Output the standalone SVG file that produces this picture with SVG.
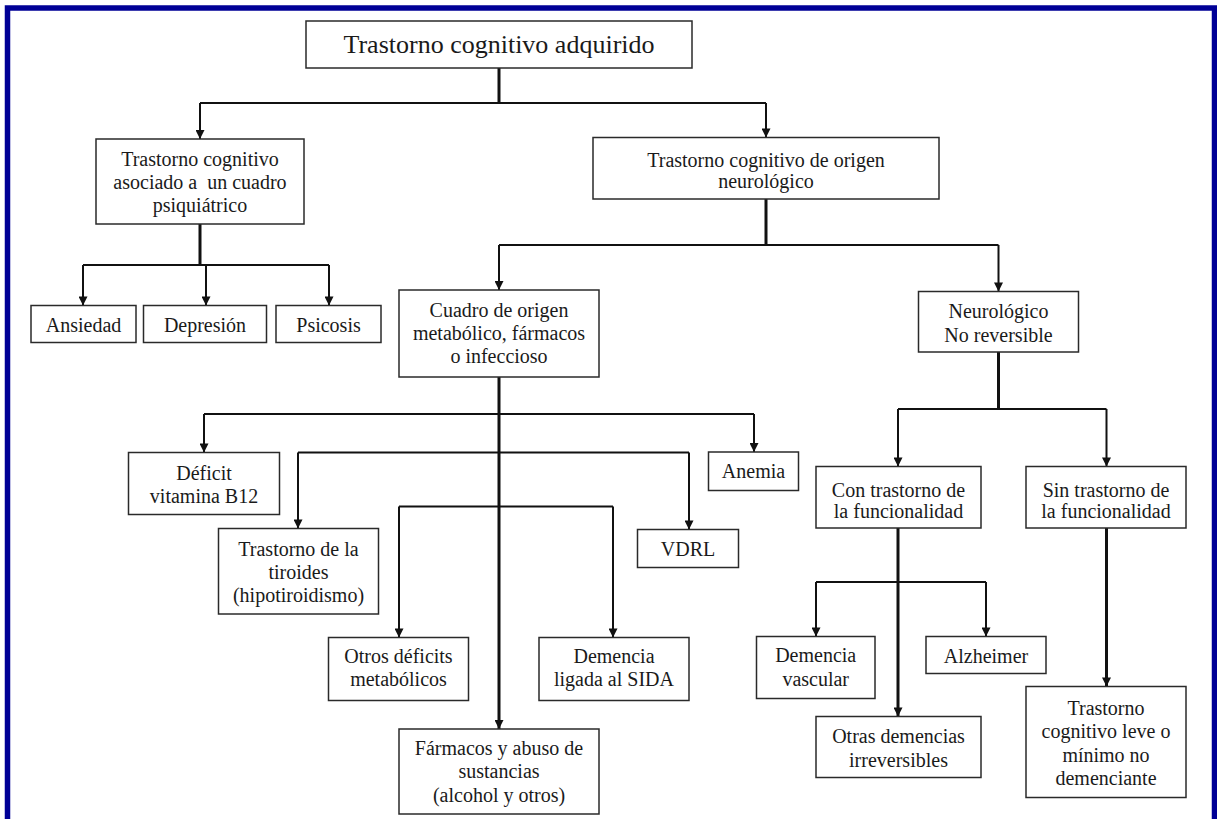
<svg xmlns="http://www.w3.org/2000/svg" width="1217" height="819" viewBox="0 0 1217 819">
<style>
  .box { fill: #ffffff; stroke: #2a2a2a; stroke-width: 1.5; }
  .t { font-family: "Liberation Serif", "DejaVu Serif", "Noto Serif", "Times New Roman", Times, serif; font-size: 20px; fill: #1a1a1a; text-anchor: middle; }
  .big { font-size: 26px; }
  .ln { fill: none; stroke: #111111; stroke-width: 2; }
  .trunk { stroke-width: 3; }
  .ar { marker-end: url(#arrow); }
</style>
<defs>
  <marker id="arrow" viewBox="0 0 10 10" refX="10" refY="5" markerWidth="11" markerHeight="9" markerUnits="userSpaceOnUse" orient="auto">
    <path d="M0,0 L10,5 L0,10 z" fill="#111111"/>
  </marker>
</defs>
<rect x="0" y="0" width="1217" height="819" fill="#ffffff"/>
<rect id="frame" x="7.5" y="8" width="1207" height="860" fill="none" stroke="#000096" stroke-width="5.5"/>

<g id="connectors">
  <path class="ln trunk" d="M499,68 V103"/>
  <path class="ln" d="M200,103 H766"/>
  <path class="ln ar" d="M200,103 V139"/>
  <path class="ln ar" d="M766,103 V137.5"/>

  <path class="ln trunk" d="M200,224 V265"/>
  <path class="ln" d="M83,265 H329"/>
  <path class="ln ar" d="M83,265 V305.5"/>
  <path class="ln ar" d="M206,265 V305.5"/>
  <path class="ln ar" d="M329,265 V305.5"/>

  <path class="ln trunk" d="M766,199 V245"/>
  <path class="ln" d="M499,245 H998.5"/>
  <path class="ln ar" d="M499,245 V290"/>
  <path class="ln ar" d="M998.5,245 V291.5"/>

  <path class="ln trunk ar" d="M499,377 V729"/>
  <path class="ln" d="M204,414 H754"/>
  <path class="ln ar" d="M204,414 V452.5"/>
  <path class="ln ar" d="M754,414 V452"/>
  <path class="ln" d="M298,452.5 H689"/>
  <path class="ln ar" d="M298,452.5 V528.5"/>
  <path class="ln ar" d="M689,452.5 V529.5"/>
  <path class="ln" d="M399,506.5 H613"/>
  <path class="ln ar" d="M399,506.5 V637.5"/>
  <path class="ln ar" d="M613,506.5 V637.5"/>

  <path class="ln trunk" d="M998.5,352 V409"/>
  <path class="ln" d="M898,409 H1106.5"/>
  <path class="ln ar" d="M898,409 V466.5"/>
  <path class="ln ar" d="M1106.5,409 V466.5"/>

  <path class="ln trunk ar" d="M898,528 V716.5"/>
  <path class="ln" d="M816,582 H986"/>
  <path class="ln ar" d="M816,582 V636.5"/>
  <path class="ln ar" d="M986,582 V636.5"/>

  <path class="ln trunk ar" d="M1106.5,528 V686.5"/>
</g>

<g id="n-root">
  <rect class="box" x="306" y="21" width="386" height="47"/>
  <text class="t big" x="499" y="53">Trastorno cognitivo adquirido</text>
</g>
<g id="n-psiq">
  <rect class="box" x="96" y="139" width="208" height="85"/>
  <text class="t" x="200" y="166">Trastorno cognitivo</text>
  <text class="t" x="200" y="189" xml:space="preserve">asociado a  un cuadro</text>
  <text class="t" x="200" y="212">psiquiátrico</text>
</g>
<g id="n-neuro">
  <rect class="box" x="593" y="137.5" width="346" height="61.5"/>
  <text class="t" x="766" y="167">Trastorno cognitivo de origen</text>
  <text class="t" x="766" y="188">neurológico</text>
</g>
<g id="n-ansiedad">
  <rect class="box" x="31" y="305.5" width="105" height="37"/>
  <text class="t" x="83.5" y="332">Ansiedad</text>
</g>
<g id="n-depresion">
  <rect class="box" x="143.5" y="305.5" width="123" height="37"/>
  <text class="t" x="205" y="332">Depresión</text>
</g>
<g id="n-psicosis">
  <rect class="box" x="276" y="305.5" width="105" height="37"/>
  <text class="t" x="328.5" y="332">Psicosis</text>
</g>
<g id="n-cuadro">
  <rect class="box" x="399" y="290" width="200" height="87"/>
  <text class="t" x="499" y="317">Cuadro de origen</text>
  <text class="t" x="499" y="340">metabólico, fármacos</text>
  <text class="t" x="499" y="363">o infeccioso</text>
</g>
<g id="n-noreversible">
  <rect class="box" x="918.5" y="291.5" width="160" height="60.5"/>
  <text class="t" x="998.5" y="318">Neurológico</text>
  <text class="t" x="998.5" y="342">No reversible</text>
</g>
<g id="n-deficit">
  <rect class="box" x="128.5" y="452.5" width="151" height="62"/>
  <text class="t" x="204" y="480">Déficit</text>
  <text class="t" x="204" y="503">vitamina B12</text>
</g>
<g id="n-anemia">
  <rect class="box" x="708.5" y="452" width="90" height="38.5"/>
  <text class="t" x="753.5" y="478">Anemia</text>
</g>
<g id="n-tiroides">
  <rect class="box" x="218.5" y="528.5" width="160" height="85.5"/>
  <text class="t" x="298.5" y="556">Trastorno de la</text>
  <text class="t" x="298.5" y="579">tiroides</text>
  <text class="t" x="298.5" y="602">(hipotiroidismo)</text>
</g>
<g id="n-vdrl">
  <rect class="box" x="637.5" y="529.5" width="101" height="38"/>
  <text class="t" x="688" y="556">VDRL</text>
</g>
<g id="n-otros">
  <rect class="box" x="328.5" y="637.5" width="140" height="63"/>
  <text class="t" x="398.5" y="663">Otros déficits</text>
  <text class="t" x="398.5" y="686">metabólicos</text>
</g>
<g id="n-sida">
  <rect class="box" x="539" y="637.5" width="150" height="63"/>
  <text class="t" x="614" y="663">Demencia</text>
  <text class="t" x="614" y="686">ligada al SIDA</text>
</g>
<g id="n-farmacos">
  <rect class="box" x="399" y="729" width="200" height="85"/>
  <text class="t" x="499" y="755">Fármacos y abuso de</text>
  <text class="t" x="499" y="778">sustancias</text>
  <text class="t" x="499" y="802">(alcohol y otros)</text>
</g>
<g id="n-con">
  <rect class="box" x="816" y="466.5" width="165" height="61.5"/>
  <text class="t" x="898.5" y="497">Con trastorno de</text>
  <text class="t" x="898.5" y="518">la funcionalidad</text>
</g>
<g id="n-sin">
  <rect class="box" x="1026" y="466.5" width="160" height="61.5"/>
  <text class="t" x="1106" y="497">Sin trastorno de</text>
  <text class="t" x="1106" y="518">la funcionalidad</text>
</g>
<g id="n-vascular">
  <rect class="box" x="756.5" y="636.5" width="118.5" height="62"/>
  <text class="t" x="815.7" y="662">Demencia</text>
  <text class="t" x="815.7" y="686">vascular</text>
</g>
<g id="n-alzheimer">
  <rect class="box" x="926" y="636.5" width="120" height="37"/>
  <text class="t" x="986" y="663">Alzheimer</text>
</g>
<g id="n-otras">
  <rect class="box" x="816" y="716.5" width="165" height="61"/>
  <text class="t" x="898.5" y="743">Otras demencias</text>
  <text class="t" x="898.5" y="767">irreversibles</text>
</g>
<g id="n-leve">
  <rect class="box" x="1026" y="686.5" width="160" height="111"/>
  <text class="t" x="1106" y="715">Trastorno</text>
  <text class="t" x="1106" y="738">cognitivo leve o</text>
  <text class="t" x="1106" y="762">mínimo no</text>
  <text class="t" x="1106" y="785">demenciante</text>
</g>
</svg>
